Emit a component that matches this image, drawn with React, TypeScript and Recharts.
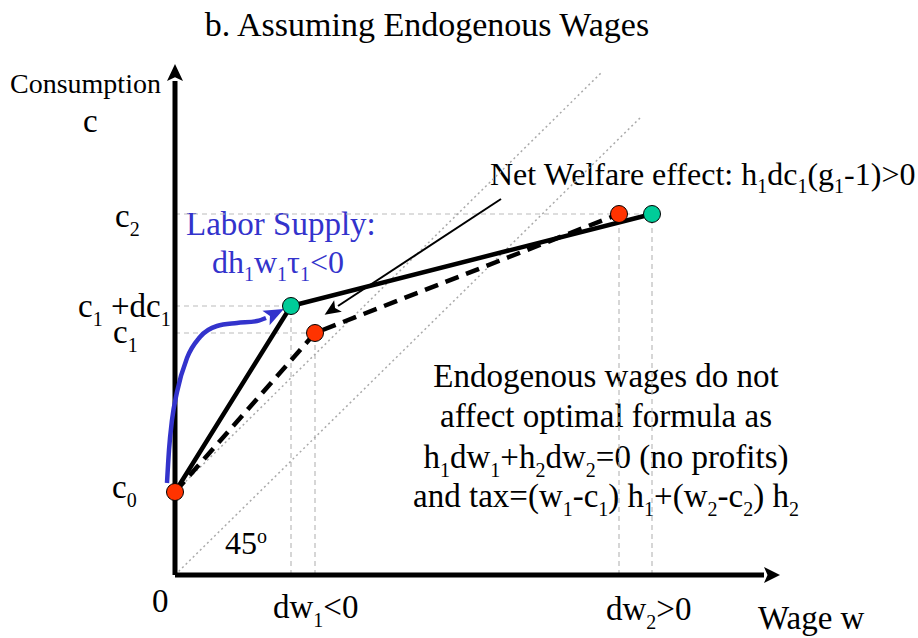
import React from "react";
import {
  ComposedChart,
  Line,
  XAxis,
  YAxis,
  ReferenceLine,
  ReferenceDot,
  Customized,
} from "recharts";

const W = 918;
const H = 638;
const FONT = "'Liberation Serif', 'DejaVu Serif', serif";

// budget set before reform (solid) and after (dashed): wage w, consumption c
const solidW = [0, 11.6, 47.7];
const solidC = [8.3, 26.9, 36.1];
const dashedW = [0, 14.0, 44.4];
const dashedC = [8.3, 24.2, 36.1];

// 45 degree lines
const diagLowW = [0, 46.7];
const diagLowC = [0, 45.9];
const diagHighW = [0, 42.6];
const diagHighC = [8.3, 50.2];

// labor supply response (blue curve) and its arrow tip
const blueW = [-0.8, -0.6, -0.3, 0.2, 1.2, 2.5, 4.2, 6.2, 8.2, 9.1];
const blueC = [9.2, 12.5, 15.5, 18.3, 21.7, 23.8, 24.9, 25.2, 25.4, 25.7];
const blueTip = { w: 10.9, c: 26.6 };

// net welfare pointer
const welfareW = [32.6, 16.3];
const welfareC = [37.6, 26.9];

// axes
const xAxisW = [0, 58.9];
const xAxisC = [0, 0];
const yAxisW = [0, 0];
const yAxisC = [0, 49.4];

const zip = (ws: number[], cs: number[]) => ws.map((w, i) => ({ w, c: cs[i] }));

const angleOf = (dw: number, dc: number) => (Math.atan2(-dc, dw) * 180) / Math.PI;

function arrowDot(last: number, angle: number, len: number, half: number, fill: string) {
  return (props: any) => {
    const { cx, cy, index } = props;
    if (index !== last || cx == null) return <g key={`d${index}`} />;
    return (
      <polygon
        key={`d${index}`}
        points={`${len},0 0,${-half} ${len * 0.22},0 0,${half}`}
        fill={fill}
        transform={`translate(${cx},${cy}) rotate(${angle})`}
      />
    );
  };
}

type Part = [string, ("sub" | "sup")?];

function Rich({ x, y, parts, size = 33, anchor = "start", fill = "#000" }: {
  x: number; y: number; parts: Part[]; size?: number; anchor?: string; fill?: string;
}) {
  let shift = 0;
  const small = Math.round(size * 0.62);
  return (
    <text
      x={x}
      y={y}
      fill={fill}
      textAnchor={anchor}
      style={{ fontFamily: FONT, fontSize: size }}
    >
      {parts.map(([t, kind], i) => {
        let target = 0;
        if (kind === "sub") target = size * 0.26;
        if (kind === "sup") target = -size * 0.35;
        const dy = target - shift;
        shift = target;
        return (
          <tspan key={i} dy={dy} style={{ fontSize: kind ? small : size }}>
            {t}
          </tspan>
        );
      })}
    </text>
  );
}

function Labels() {
  return (
    <g>
      <Rich x={427} y={36} anchor="middle" size={34} parts={[["b. Assuming Endogenous Wages"]]} />
      <Rich x={10} y={93} size={28} parts={[["Consumption"]]} />
      <Rich x={83} y={132} parts={[["c"]]} />
      <Rich x={115} y={227} parts={[["c"], ["2", "sub"]]} />
      <Rich x={78} y={317} parts={[["c"], ["1", "sub"], [" +dc"], ["1", "sub"]]} />
      <Rich x={113} y={343} parts={[["c"], ["1", "sub"]]} />
      <Rich x={112} y={498} parts={[["c"], ["0", "sub"]]} />
      <Rich x={152} y={612} parts={[["0"]]} />
      <Rich x={273} y={618} parts={[["dw"], ["1", "sub"], ["<0"]]} />
      <Rich x={606} y={620} parts={[["dw"], ["2", "sub"], [">0"]]} />
      <Rich x={758} y={629} parts={[["Wage w"]]} />
      <Rich x={225} y={554} size={32} parts={[["45"], ["o", "sup"]]} />
      <Rich x={186} y={235} fill="#3333cc" parts={[["Labor Supply:"]]} />
      <Rich
        x={212}
        y={273}
        size={32}
        fill="#3333cc"
        parts={[["dh"], ["1", "sub"], ["w"], ["1", "sub"], ["τ"], ["1", "sub"], ["<0"]]}
      />
      <Rich
        x={490}
        y={185}
        size={32}
        parts={[
          ["Net Welfare effect: h"], ["1", "sub"], ["dc"], ["1", "sub"], ["(g"], ["1", "sub"], ["-1)>0"],
        ]}
      />
      <Rich x={606} y={387} anchor="middle" parts={[["Endogenous wages do not"]]} />
      <Rich x={606} y={427} anchor="middle" parts={[["affect optimal formula as"]]} />
      <Rich
        x={606}
        y={468}
        anchor="middle"
        parts={[["h"], ["1", "sub"], ["dw"], ["1", "sub"], ["+h"], ["2", "sub"], ["dw"], ["2", "sub"], ["=0 (no profits)"]]}
      />
      <Rich
        x={606}
        y={507}
        anchor="middle"
        parts={[
          ["and tax=(w"], ["1", "sub"], ["-c"], ["1", "sub"], [") h"], ["1", "sub"], ["+(w"], ["2", "sub"],
          ["-c"], ["2", "sub"], [") h"], ["2", "sub"],
        ]}
      />
    </g>
  );
}

const guide = { stroke: "#bbbbbb", strokeWidth: 1.2, strokeDasharray: "5 4" };
const dotted = { stroke: "#aaaaaa", strokeWidth: 1.5, strokeDasharray: "2 3" };

export default function App() {
  const blueLast = blueW.length - 1;
  const blueAngle = angleOf(blueTip.w - blueW[blueLast], blueTip.c - blueC[blueLast]);
  const welfareAngle = angleOf(welfareW[1] - welfareW[0], welfareC[1] - welfareC[0]);

  return (
    <div style={{ position: "absolute", left: 0, top: 0, width: W, height: H, background: "#fff" }}>
      <ComposedChart width={W} height={H} margin={{ top: 55, right: 123, bottom: 43, left: 155 }}>
        <XAxis type="number" dataKey="w" domain={[-2, 62]} hide allowDataOverflow />
        <YAxis type="number" dataKey="c" domain={[-2, 52]} hide allowDataOverflow />

        <ReferenceLine segment={[{ x: 0, y: solidC[2] }, { x: solidW[2], y: solidC[2] }]} {...guide} ifOverflow="visible" />
        <ReferenceLine segment={[{ x: 0, y: solidC[1] }, { x: solidW[1], y: solidC[1] }]} {...guide} ifOverflow="visible" />
        <ReferenceLine segment={[{ x: 0, y: dashedC[1] }, { x: dashedW[1], y: dashedC[1] }]} {...guide} ifOverflow="visible" />
        <ReferenceLine segment={[{ x: solidW[1], y: 0 }, { x: solidW[1], y: solidC[1] }]} {...guide} ifOverflow="visible" />
        <ReferenceLine segment={[{ x: dashedW[1], y: 0 }, { x: dashedW[1], y: dashedC[1] }]} {...guide} ifOverflow="visible" />
        <ReferenceLine segment={[{ x: dashedW[2], y: 0 }, { x: dashedW[2], y: dashedC[2] }]} {...guide} ifOverflow="visible" />
        <ReferenceLine segment={[{ x: solidW[2], y: 0 }, { x: solidW[2], y: solidC[2] }]} {...guide} ifOverflow="visible" />
        <ReferenceLine segment={[{ x: diagLowW[0], y: diagLowC[0] }, { x: diagLowW[1], y: diagLowC[1] }]} {...dotted} ifOverflow="visible" />
        <ReferenceLine segment={[{ x: diagHighW[0], y: diagHighC[0] }, { x: diagHighW[1], y: diagHighC[1] }]} {...dotted} ifOverflow="visible" />

        <Line
          data={zip(xAxisW, xAxisC)}
          dataKey="c"
          stroke="#000"
          strokeWidth={5}
          dot={arrowDot(1, 0, 16, 8, "#000")}
          activeDot={false}
          isAnimationActive={false}
        />
        <Line
          data={zip(yAxisW, yAxisC)}
          dataKey="c"
          stroke="#000"
          strokeWidth={5}
          dot={arrowDot(1, -90, 17, 8, "#000")}
          activeDot={false}
          isAnimationActive={false}
        />
        <Line
          data={zip(dashedW, dashedC)}
          dataKey="c"
          stroke="#000"
          strokeWidth={4.5}
          strokeDasharray="14 8"
          dot={false}
          activeDot={false}
          isAnimationActive={false}
        />
        <Line
          data={zip(solidW, solidC)}
          dataKey="c"
          stroke="#000"
          strokeWidth={4.5}
          dot={false}
          activeDot={false}
          isAnimationActive={false}
        />
        <Line
          data={zip(blueW, blueC)}
          dataKey="c"
          type="monotone"
          stroke="#3333cc"
          strokeWidth={4.5}
          dot={arrowDot(blueLast, blueAngle, 20, 8, "#3333cc")}
          activeDot={false}
          isAnimationActive={false}
        />
        <Line
          data={zip(welfareW, welfareC)}
          dataKey="c"
          stroke="#000"
          strokeWidth={2}
          dot={arrowDot(1, welfareAngle, 16, 7, "#000")}
          activeDot={false}
          isAnimationActive={false}
        />

        <ReferenceDot x={solidW[0]} y={solidC[0]} r={8.5} fill="#ff3300" stroke="#000" strokeWidth={1} ifOverflow="visible" />
        <ReferenceDot x={dashedW[1]} y={dashedC[1]} r={8.5} fill="#ff3300" stroke="#000" strokeWidth={1} ifOverflow="visible" />
        <ReferenceDot x={dashedW[2]} y={dashedC[2]} r={8.5} fill="#ff3300" stroke="#000" strokeWidth={1} ifOverflow="visible" />
        <ReferenceDot x={solidW[1]} y={solidC[1]} r={8.5} fill="#00cc99" stroke="#000" strokeWidth={1} ifOverflow="visible" />
        <ReferenceDot x={solidW[2]} y={solidC[2]} r={8.5} fill="#00cc99" stroke="#000" strokeWidth={1} ifOverflow="visible" />

        <Customized component={<Labels />} />
      </ComposedChart>
    </div>
  );
}
